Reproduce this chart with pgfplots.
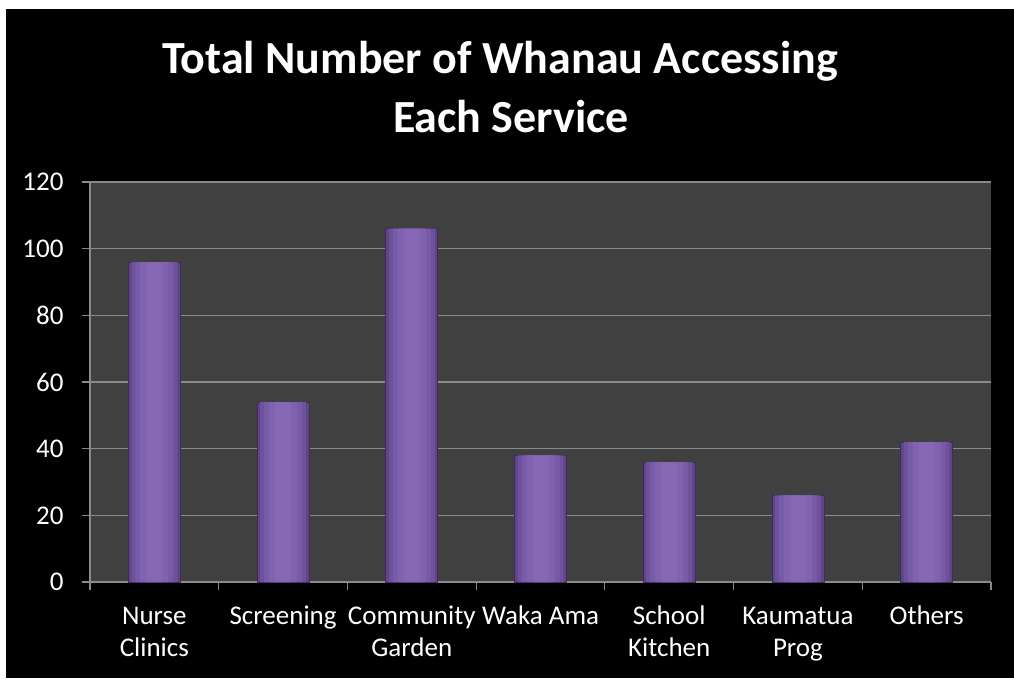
\documentclass[border=0pt]{standalone}
\usepackage{fontspec}
\setmainfont{Carlito}
\usepackage{pgfplots}
\pgfplotsset{compat=1.18}
\definecolor{plotbg}{HTML}{404040}
\definecolor{gridc}{HTML}{8A8A8A}
\definecolor{barA}{HTML}{5F4587}
\definecolor{barB}{HTML}{6D519A}
\definecolor{barC}{HTML}{785BA8}
\definecolor{barD}{HTML}{8063B0}
\definecolor{barE}{HTML}{8567B5}
\definecolor{barline}{HTML}{3E2C5A}
\begin{document}
\begin{tikzpicture}
\fill[white] (0pt,0pt) rectangle (1014pt,678pt);
\fill[black] (6pt,0pt) rectangle (1014pt,669pt);
\node[anchor=base,text=white,font=\fontsize{46}{52}\selectfont\bfseries] at (500pt,604pt) {Total Number of Whanau Accessing};
\node[anchor=base,text=white,font=\fontsize{46}{52}\selectfont\bfseries] at (511pt,545pt) {Each Service};
\pgfplotstableread{
x y
0 96
1 54
2 106
3 38
4 36
5 26
6 42
}\services
\begin{axis}[
  at={(90pt,96pt)}, anchor=south west,
  scale only axis, width=901pt, height=400pt,
  xmin=-0.5, xmax=6.5, ymin=0, ymax=120,
  ytick={0,20,...,120},
  xtick={0,...,6},
  xticklabels={{\strut Nurse\\\strut Clinics},{\strut Screening},{\strut Community\\\strut Garden},{\strut Waka Ama},{\strut School\\\strut Kitchen},{\strut Kaumatua\\\strut Prog},{\strut Others}},
  minor xtick={-0.5,0.5,...,6.5},
  major x tick style={draw=none},
  tick align=outside,
  major tick length=8pt, minor tick length=8pt,
  tick style={gridc, line width=1.2pt},
  ymajorgrids, grid style={gridc, line width=1.2pt},
  axis background/.style={fill=plotbg},
  axis line style={gridc, line width=1.2pt},
  axis x line*=bottom, axis y line*=left,
  separate axis lines,
  x axis line style={-}, y axis line style={-},
  /pgf/number format/assume math mode=true,
  ticklabel style={text=white, font=\fontsize{27}{32}\selectfont},
  xticklabel style={align=center, anchor=north, yshift=-9pt},
  yticklabel style={anchor=east, xshift=-15pt},
  ybar, bar shift=0pt,
]
\addplot[ybar, bar width=52pt, fill=barA, draw=barline, line width=0.8pt] table {\services};
\addplot[ybar, bar width=46pt, fill=barB, draw=none] table {\services};
\addplot[ybar, bar width=38pt, fill=barC, draw=none] table {\services};
\addplot[ybar, bar width=28pt, fill=barD, draw=none] table {\services};
\addplot[ybar, bar width=16pt, fill=barE, draw=none] table {\services};
\end{axis}
\end{tikzpicture}
\end{document}
